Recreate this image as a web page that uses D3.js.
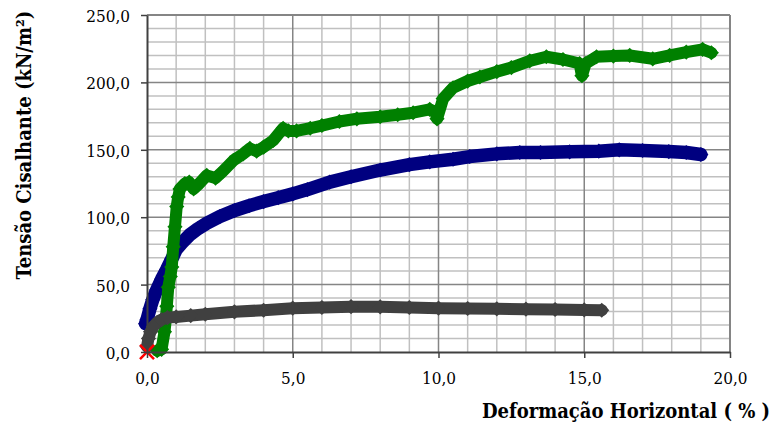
<!DOCTYPE html>
<html><head><meta charset="utf-8">
<script src="https://cdn.jsdelivr.net/npm/d3@7"></script>
<style>body{margin:0;background:#fff}svg{display:block}</style>
</head><body>
<svg width="775" height="428"></svg>
<script>
// ---- data ----
const xTicks = [0, 5, 10, 15, 20];
const yTicks = [0, 50, 100, 150, 200, 250];
const xTitle = "Deformação Horizontal ( % )";
const yTitle = "Tensão Cisalhante (kN/m²)";

const seriesBlue = [[-0.05,21],[0.0,24],[0.1,32],[0.2,39],[0.33,46],[0.5,54],[0.67,61],[0.85,69],[1.0,76],[1.2,81],[1.47,87],[1.75,91.5],[2.05,95.5],[2.5,100.5],[3.0,105],[3.5,108.5],[4.0,111.6],[4.5,114.5],[5.0,117.3],[5.5,120.5],[6.27,126],[7.0,130],[8.0,135],[9.0,139],[9.7,141],[10.5,143],[11.07,145],[12.0,147],[12.79,148],[13.5,148],[14.5,148.5],[15.5,149],[16.2,150],[17.0,149.5],[17.9,148.7],[18.5,148],[19.0,146.5]];

const seriesGreen = [[0.35,1],[0.5,2],[0.6,15],[0.65,25],[0.68,34],[0.73,48],[0.8,56],[0.85,63],[0.9,78],[0.96,93],[1.02,108],[1.07,115],[1.13,121],[1.3,125],[1.45,126],[1.6,121],[1.75,124],[2.05,131],[2.35,129],[2.6,134],[2.96,142],[3.3,147],[3.53,151],[3.76,149],[4.0,152],[4.33,157],[4.67,166],[4.85,164],[5.13,164],[5.6,166],[6.0,168],[6.6,171],[7.2,173],[8.0,174.5],[8.6,176],[9.13,177.5],[9.7,180],[9.9,178],[9.95,173],[10.16,188],[10.5,196],[11.0,201],[11.42,204],[12.0,208],[12.5,211],[13.13,216],[13.7,219],[14.27,217],[14.84,214],[14.92,205],[15.05,214],[15.42,219],[16.0,219.5],[16.56,220],[17.35,217.5],[17.93,220],[18.5,222.5],[19.06,224.5],[19.36,222]];

const seriesGray = [[0,4],[0.05,10],[0.12,15],[0.22,19],[0.35,22],[0.5,24],[0.7,25.5],[1.0,26],[1.5,27],[2,28],[3,29.8],[4,31],[5,32.5],[6,33],[7,33.6],[8,33.5],[9,33],[10,32.5],[11,32.3],[12,32],[13,31.8],[14,31.5],[15,31.2],[15.6,31]];

const seriesOrigin = [[0,0]];

// ---- chart ----
const svg = d3.select("svg");
const x = d3.scaleLinear().domain([0, 20]).range([147, 730]);
const y = d3.scaleLinear().domain([0, 250]).range([352, 15]);
const fmt = d => d3.format(".1f")(d).replace(".", ",");
const font = "'DejaVu Serif Condensed','DejaVu Serif',serif";

const grid = svg.append("g");
const minorX = d3.range(1, 20).filter(v => v % 5 !== 0);
const minorY = d3.range(10, 250, 10).filter(v => v % 50 !== 0);
grid.selectAll(".mx").data(minorX).join("line")
  .attr("x1", d => x(d)).attr("x2", d => x(d)).attr("y1", y(0)).attr("y2", y(250))
  .attr("stroke", "#c0c0c0").attr("stroke-width", 1.5);
grid.selectAll(".my").data(minorY).join("line")
  .attr("y1", d => y(d)).attr("y2", d => y(d)).attr("x1", x(0)).attr("x2", x(20))
  .attr("stroke", "#c0c0c0").attr("stroke-width", 1.5);
grid.selectAll(".Mx").data(xTicks.slice(1)).join("line")
  .attr("x1", d => x(d)).attr("x2", d => x(d)).attr("y1", y(0)).attr("y2", y(250))
  .attr("stroke", "#858585").attr("stroke-width", 1.5);
grid.selectAll(".My").data(yTicks.slice(1)).join("line")
  .attr("y1", d => y(d)).attr("y2", d => y(d)).attr("x1", x(0)).attr("x2", x(20))
  .attr("stroke", "#858585").attr("stroke-width", 1.5);

// series
const line = d3.line().x(d => x(d[0])).y(d => y(d[1]));
const diamond = { draw(ctx, size) { const r = Math.sqrt(size / 2);
  ctx.moveTo(0, -r); ctx.lineTo(r, 0); ctx.lineTo(0, r); ctx.lineTo(-r, 0); ctx.closePath(); } };
const sym = d3.symbol().type(diamond).size(115);
function drawSeries(data, color, w) {
  const g = svg.append("g");
  g.append("path").attr("d", line(data)).attr("fill", "none").attr("stroke", color)
    .attr("stroke-width", w).attr("stroke-linejoin", "round").attr("stroke-linecap", "round");
  g.selectAll("path.m").data(data).join("path").attr("class", "m")
    .attr("transform", d => `translate(${x(d[0])},${y(d[1])})`)
    .attr("d", sym).attr("fill", color);
}
drawSeries(seriesBlue, "#000080", 13.5);
drawSeries(seriesGreen, "#008000", 12);
drawSeries(seriesGray, "#404040", 12);
svg.append("g").selectAll("path").data(seriesOrigin).join("path")
  .attr("transform", d => `translate(${x(d[0])},${y(d[1])})`)
  .attr("d", d3.symbol().type(d3.symbolX).size(130))
  .attr("fill", "none").attr("stroke", "#ff0000").attr("stroke-width", 2.5);

// frame (top/right)
svg.append("line").attr("x1", x(0)).attr("x2", x(20)).attr("y1", y(250)).attr("y2", y(250))
  .attr("stroke", "#858585").attr("stroke-width", 2);
svg.append("line").attr("x1", x(20)).attr("x2", x(20)).attr("y1", y(0)).attr("y2", y(250))
  .attr("stroke", "#858585").attr("stroke-width", 2);

// axes
const ya = svg.append("g").attr("transform", `translate(${x(0)},0)`)
  .call(d3.axisLeft(y).tickValues(yTicks).tickFormat(fmt).tickSize(6).tickPadding(11).tickSizeOuter(0));
const xa = svg.append("g").attr("transform", `translate(0,${y(0)})`)
  .call(d3.axisBottom(x).tickValues(xTicks).tickFormat(fmt).tickSize(6).tickPadding(14).tickSizeOuter(0));
[ya, xa].forEach(a => {
  a.attr("font-family", null);
  a.select(".domain").attr("stroke", "#404040").attr("stroke-width", 2);
  a.selectAll(".tick line").attr("stroke", "#404040").attr("stroke-width", 1.5);
  a.selectAll("text").style("font-family", font).style("font-size", "17px").attr("fill", "#000");
});
ya.selectAll("text").attr("dy", "0.38em");

// titles
svg.append("text").attr("x", 626).attr("y", 418).attr("text-anchor", "middle")
  .style("font-family", font).style("font-size", "20px").style("font-weight", "bold").text(xTitle);
svg.append("text").attr("transform", "translate(31,145) rotate(-90)").attr("text-anchor", "middle")
  .style("font-family", font).style("font-size", "20px").style("font-weight", "bold").text(yTitle);
</script>
</body></html>
